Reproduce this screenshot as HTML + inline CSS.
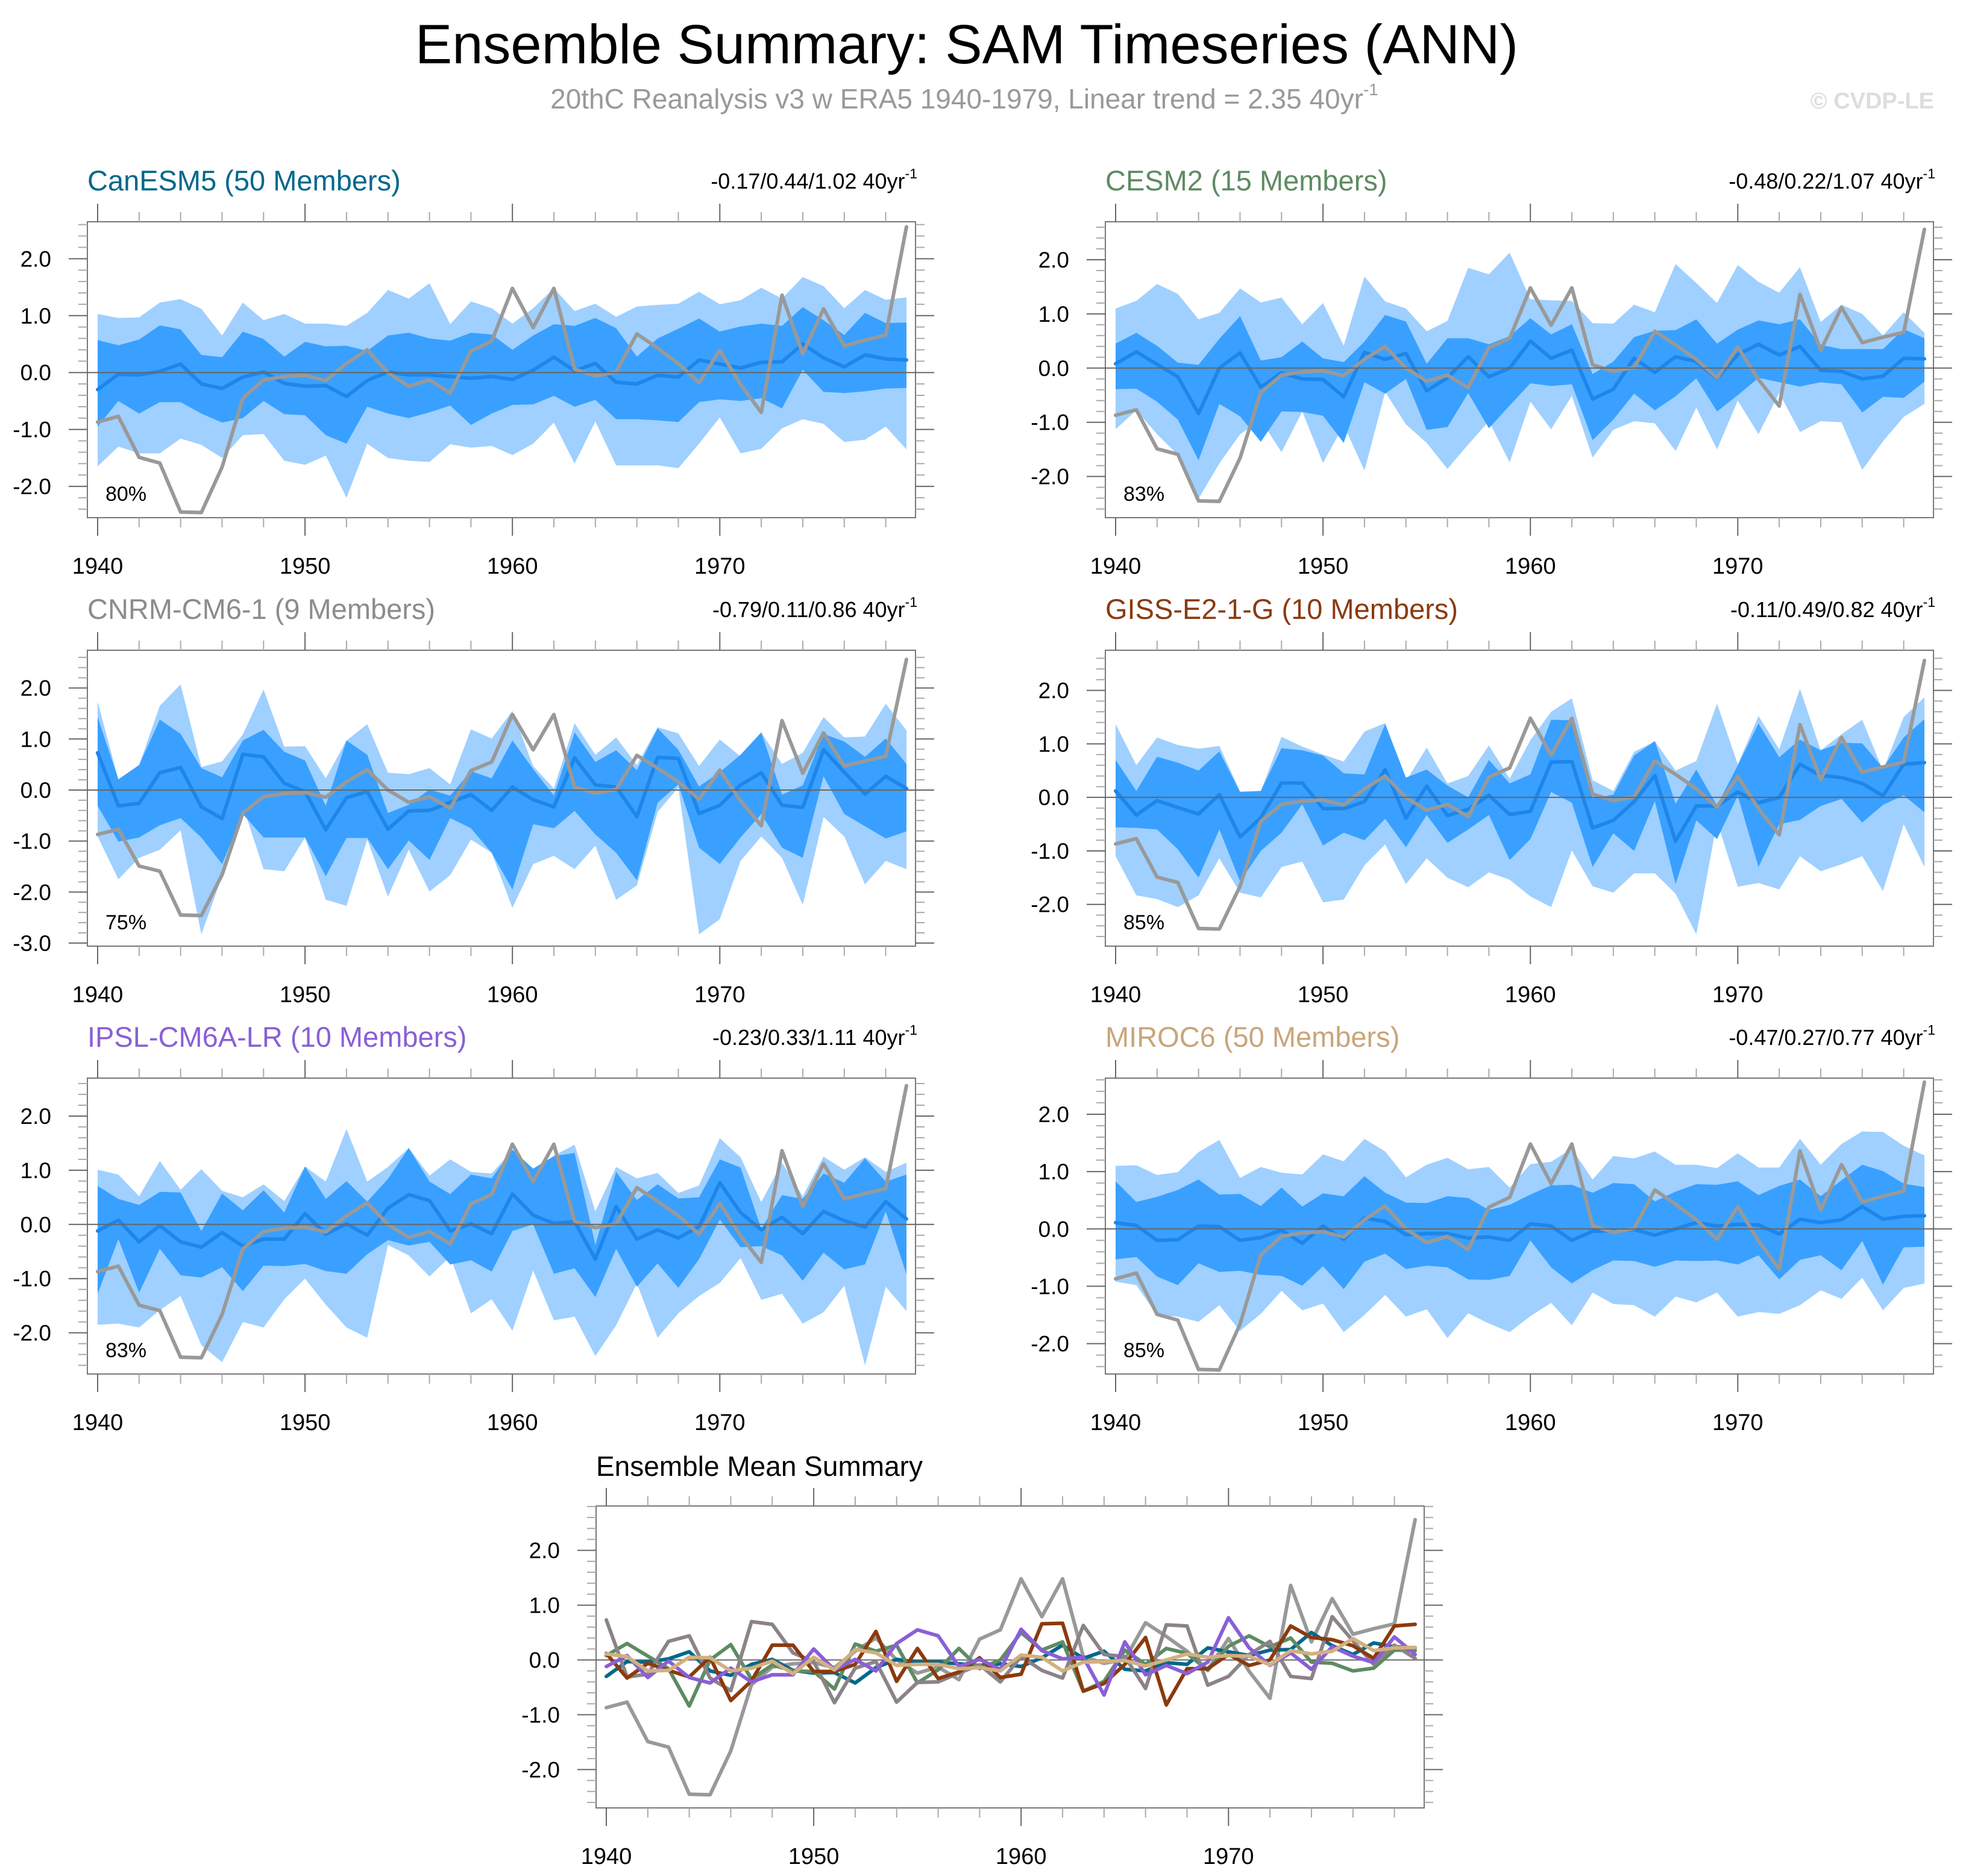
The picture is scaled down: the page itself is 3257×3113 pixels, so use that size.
<!DOCTYPE html>
<html><head><meta charset="utf-8">
<style>
html,body{margin:0;padding:0;background:#fff;}
svg{display:block;font-family:"Liberation Sans",sans-serif;}
</style></head>
<body>
<svg id="fig" width="3257" height="3113" viewBox="0 0 3257 3113" xmlns="http://www.w3.org/2000/svg">
<text x="1604" y="105" font-size="92" text-anchor="middle" fill="#000">Ensemble Summary: SAM Timeseries (ANN)</text>
<text x="1600" y="180" font-size="46" text-anchor="middle" fill="#999">20thC Reanalysis v3 w ERA5 1940-1979, Linear trend = 2.35 40yr<tspan font-size="28" dy="-22">-1</tspan></text>
<text x="3209" y="180" font-size="38" font-weight="bold" text-anchor="end" fill="#ddd">© CVDP-LE</text>
<g id="plots"></g>
</svg>
<script>
const years = [1940,1941,1942,1943,1944,1945,1946,1947,1948,1949,1950,1951,1952,1953,1954,1955,1956,1957,1958,1959,1960,1961,1962,1963,1964,1965,1966,1967,1968,1969,1970,1971,1972,1973,1974,1975,1976,1977,1978,1979];
const obs = [-0.87,-0.77,-1.49,-1.59,-2.45,-2.46,-1.66,-0.45,-0.13,-0.07,-0.05,-0.14,0.16,0.40,0,-0.24,-0.13,-0.36,0.38,0.55,1.48,0.79,1.48,0.06,-0.06,0.01,0.68,0.43,0.16,-0.18,0.39,-0.21,-0.70,1.36,0.33,1.12,0.47,0.57,0.66,2.56];

const canMean = [-0.3,-0.03,-0.04,0.02,0.15,-0.2,-0.28,-0.08,0.01,-0.19,-0.24,-0.23,-0.42,-0.14,0.01,-0.04,-0.04,-0.07,-0.1,-0.07,-0.12,0.04,0.27,0.03,0.16,-0.17,-0.2,-0.05,-0.08,0.22,0.15,0.08,0.18,0.19,0.5,0.26,0.1,0.31,0.24,0.22];
const canDarkHi = [0.57,0.48,0.58,0.83,0.76,0.31,0.27,0.72,0.59,0.28,0.54,0.46,0.47,0.38,0.65,0.7,0.6,0.56,0.7,0.67,0.4,0.65,0.85,0.82,0.96,0.78,0.28,0.6,0.77,0.95,0.72,0.81,0.86,0.82,1.15,0.92,0.66,1.05,0.87,0.88];
const canDarkLo = [-0.95,-0.5,-0.72,-0.52,-0.52,-0.72,-0.88,-0.8,-0.5,-0.73,-0.75,-1.1,-1.25,-0.6,-0.72,-0.8,-0.7,-0.58,-0.92,-0.72,-0.57,-0.56,-0.41,-0.6,-0.48,-0.82,-0.82,-0.84,-0.87,-0.52,-0.47,-0.5,-0.45,-0.63,0.05,-0.34,-0.36,-0.33,-0.28,-0.27];
const canLightHi = [1.03,0.96,0.97,1.23,1.29,1.12,0.65,1.23,0.92,1.03,0.86,0.86,0.82,1.05,1.45,1.3,1.57,0.85,1.25,1.13,0.86,1.13,1.48,1.08,1.21,0.98,1.16,1.19,1.21,1.42,1.2,1.27,1.49,1.3,1.68,1.52,1.13,1.45,1.28,1.32];
const canLightLo = [-1.65,-1.3,-1.42,-1.42,-1.16,-1.27,-1.5,-1.1,-1.08,-1.55,-1.62,-1.46,-2.2,-1.25,-1.5,-1.55,-1.57,-1.26,-1.32,-1.29,-1.45,-1.25,-0.88,-1.6,-0.86,-1.63,-1.63,-1.63,-1.68,-1.25,-0.79,-1.42,-1.34,-0.98,-0.82,-0.9,-1.22,-1.18,-0.95,-1.35];

const cesMean = [0.08,0.30,0.07,-0.16,-0.84,0,0.28,-0.35,-0.09,-0.2,-0.21,-0.53,0.29,0.16,0.27,-0.42,-0.18,0.21,-0.16,0,0.5,0.18,0.33,-0.57,-0.39,0.18,-0.08,0.21,0.12,-0.19,0.25,0.44,0.24,0.4,-0.04,-0.06,-0.2,-0.15,0.18,0.17];
const cesDarkHi = [0.45,0.65,0.41,0.1,0.06,0.54,0.96,0.14,0.2,0.49,0.18,0.11,0.49,0.98,0.86,0.08,0.55,0.55,0.44,0.59,0.92,0.62,0.81,-0.11,0.12,0.57,0.69,0.7,0.9,0.45,0.71,0.88,0.81,0.9,0.43,0.35,0.35,0.35,0.72,0.55];
const cesDarkLo = [-0.39,-0.38,-0.62,-0.95,-1.7,-0.66,-0.89,-1.36,-0.8,-0.81,-0.88,-1.38,-0.26,-0.47,-0.2,-1.14,-1.09,-0.46,-1.11,-0.69,-0.28,-0.33,-0.3,-1.33,-0.95,-0.47,-0.78,-0.52,-0.19,-0.8,-0.5,-0.18,-0.26,-0.34,-0.26,-0.3,-0.82,-0.53,-0.55,-0.25];
const cesLightHi = [1.1,1.24,1.55,1.37,0.9,1.02,1.47,1.21,1.3,0.81,1.2,0.41,1.69,1.23,1.1,0.68,0.87,1.85,1.73,2.13,1.27,1.25,1.24,0.83,0.82,1.17,1.03,1.92,1.57,1.2,1.9,1.59,1.39,1.86,0.85,1.17,1.0,0.6,1.03,0.65];
const cesLightLo = [-1.13,-0.78,-1.22,-1.6,-2.41,-1.76,-1.22,-0.96,-1.55,-0.8,-1.75,-1.05,-1.89,-0.44,-1.04,-1.38,-1.86,-1.41,-0.98,-1.74,-0.62,-1.13,-0.51,-1.65,-1.14,-0.98,-1.02,-1.53,-0.73,-1.5,-0.6,-1.22,-0.46,-1.18,-0.98,-1.0,-1.88,-1.35,-0.9,-0.66];

const cnrMean = [0.73,-0.31,-0.26,0.34,0.44,-0.33,-0.56,0.7,0.65,0.13,-0.03,-0.78,-0.15,-0.03,-0.77,-0.41,-0.4,-0.24,-0.09,-0.4,0.06,-0.19,-0.33,0.63,0.1,0.06,-0.52,0.64,0.62,-0.46,-0.3,0.1,0.34,-0.3,-0.34,0.79,0.35,-0.08,0.27,0.03];
const cnrDarkHi = [1.43,0.21,0.49,1.38,1.1,0.43,0.25,0.97,1.18,0.75,0.58,-0.31,0.97,0.69,-0.45,-0.29,0.01,-0.11,0.37,0.23,0.97,0.41,-0.11,1.13,0.55,0.78,0.39,1.21,0.79,0.07,0.35,0.69,1.13,-0.09,0.09,1.1,0.95,0.65,1.01,0.51];
const cnrDarkLo = [-0.31,-1.01,-0.93,-0.69,-0.55,-0.93,-1.45,-0.47,-0.93,-0.93,-0.93,-1.69,-0.94,-0.94,-1.55,-0.99,-1.37,-0.55,-0.75,-1.23,-1.95,-0.67,-0.75,-0.41,-0.87,-1.23,-1.77,-0.25,0.11,-1.13,-1.45,-0.93,-0.47,-1.13,-1.33,0.27,-0.47,-0.71,-0.95,-0.81];
const cnrLightHi = [1.73,0.21,0.49,1.65,2.07,0.45,0.56,1.09,1.97,0.85,0.86,0.23,0.97,1.29,0.34,0.31,0.43,0.11,1.19,1.01,1.55,0.47,0.03,1.31,0.69,1.03,0.49,1.23,1.11,0.47,0.99,0.66,1.13,0.51,0.73,1.43,1.03,1.05,1.69,1.17];
const cnrLightLo = [-0.91,-1.75,-1.33,-1.17,-0.79,-2.83,-1.69,-0.31,-1.55,-1.59,-0.93,-2.15,-2.27,-0.97,-2.09,-1.17,-1.99,-1.67,-0.97,-1.23,-2.31,-1.45,-1.29,-1.55,-1.09,-2.15,-1.87,-0.43,0.05,-2.83,-2.53,-1.39,-0.91,-1.33,-2.25,-0.53,-0.91,-1.85,-1.39,-1.55];

const gisMean = [0.12,-0.33,-0.06,-0.19,-0.31,0.05,-0.74,-0.38,0.27,0.27,-0.21,-0.21,-0.08,0.52,-0.39,0.21,-0.34,-0.22,0.04,-0.32,-0.26,0.66,0.67,-0.57,-0.43,-0.08,0.41,-0.82,-0.16,-0.16,0.1,-0.1,0.0,0.62,0.41,0.37,0.26,0.03,0.62,0.65];
const gisDarkHi = [0.7,0.12,0.76,0.65,0.5,0.86,0.1,0.12,0.92,0.88,0.78,0.45,0.43,1.37,0.37,0.52,0.22,0.0,0.7,0.26,0.43,1.45,1.44,-0.02,0.05,0.78,1.05,-0.12,0.52,-0.15,0.6,1.38,0.75,1.08,0.88,1.02,1.01,0.55,1.12,1.46];
const gisDarkLo = [-0.56,-0.57,-0.6,-0.97,-1.5,-0.6,-1.57,-1.0,-0.66,-0.13,-0.9,-0.66,-0.8,-0.4,-0.93,-0.33,-0.85,-0.6,-0.33,-1.17,-0.78,0.1,-0.1,-1.3,-0.67,-1.0,-0.07,-1.62,-0.43,-0.78,0.03,-1.3,-0.5,-0.42,-0.16,-0.03,-0.47,-0.14,0.04,-0.28];
const gisLightHi = [1.37,0.6,1.12,0.98,0.91,0.96,0.11,0.12,1.13,0.95,0.8,0.67,1.23,1.39,0.3,0.93,0.26,0.4,0.97,0.35,1.07,1.6,1.85,0.32,0.12,0.85,1.05,0.5,0.68,1.75,0.62,1.52,0.9,2.03,0.88,1.18,1.45,0.5,1.5,1.87];
const gisLightLo = [-1.1,-1.83,-1.9,-2.05,-1.83,-1.14,-1.78,-1.87,-1.3,-1.2,-1.96,-1.91,-1.27,-0.88,-1.62,-1.14,-1.5,-1.68,-1.4,-1.54,-1.85,-2.05,-0.99,-1.66,-1.78,-1.42,-1.42,-1.8,-2.56,-0.45,-1.67,-1.6,-1.72,-1.1,-1.38,-1.25,-1.1,-1.75,-0.5,-1.3];

const ipsMean = [-0.12,0.08,-0.32,-0.02,-0.32,-0.42,-0.15,-0.4,-0.27,-0.27,0.2,-0.18,0.01,-0.2,0.3,0.55,0.44,-0.12,0.01,-0.17,0.56,0.17,0.02,0.05,-0.64,0.33,-0.27,-0.1,-0.25,-0.04,0.77,0.22,-0.1,0.13,-0.17,0.24,0.07,-0.05,0.42,0.1];
const ipsDarkHi = [0.71,0.47,0.36,0.6,0.59,-0.12,0.57,0.26,0.63,0.22,1.07,0.47,0.8,0.42,0.84,1.41,0.79,0.56,0.92,0.85,1.38,1.03,1.26,1.32,-0.38,0.97,0.45,0.74,0.48,0.5,1.2,1.05,-0.08,0.54,0.47,0.94,0.77,1.22,0.79,0.92];
const ipsDarkLo = [-1.28,-0.27,-1.26,-0.45,-0.94,-0.98,-0.79,-1.23,-0.76,-0.77,-0.73,-0.86,-0.91,-0.55,-0.29,-0.39,-0.32,-0.74,-0.66,-0.87,-0.12,0,-0.91,-0.81,-1.34,-0.45,-1.15,-0.72,-1.17,-0.64,0.09,-0.42,-0.4,-0.57,-1.04,-0.52,-0.83,-0.74,0.24,-0.92];
const ipsLightHi = [1.01,0.92,0.52,1.17,0.64,1.02,0.62,0.5,0.74,0.43,1.07,0.79,1.76,0.79,1.06,1.41,0.9,1.2,0.97,0.94,1.37,0.95,1.27,1.47,0.24,1.06,0.85,0.95,0.58,0.72,1.59,1.24,0.41,1.14,0.52,1.25,1.01,1.24,0.97,1.14];
const ipsLightLo = [-1.85,-1.83,-1.9,-1.58,-1.32,-2.23,-2.54,-1.8,-1.9,-1.38,-1.0,-1.48,-1.9,-2.09,-0.38,-0.57,-0.96,-0.59,-1.64,-1.38,-1.96,-0.85,-1.77,-1.7,-2.43,-1.86,-1.09,-2.09,-1.64,-1.32,-1.08,-0.62,-1.39,-1.28,-1.83,-1.62,-1.13,-2.6,-1.15,-1.6];

const mirMean = [0.11,0.06,-0.2,-0.19,0.05,0.04,-0.2,-0.15,-0.02,-0.25,0.05,-0.18,0.19,0.13,-0.1,-0.08,-0.08,-0.16,-0.14,-0.2,0.09,0.05,-0.2,-0.04,-0.03,-0.01,-0.11,0.0,0.11,0.05,0.08,0.07,-0.09,0.17,0.11,0.16,0.39,0.17,0.22,0.23];
const mirDarkHi = [0.83,0.47,0.56,0.68,0.86,0.6,0.61,0.4,0.72,0.39,0.62,0.57,0.92,0.63,0.46,0.45,0.57,0.54,0.33,0.42,0.6,0.76,0.77,0.63,0.8,0.78,0.48,0.65,0.78,0.77,0.83,0.59,0.75,0.86,0.57,0.85,1.12,1.01,0.79,0.73];
const mirDarkLo = [-0.53,-0.49,-0.83,-0.98,-0.6,-0.75,-0.73,-0.8,-0.82,-0.99,-0.65,-1.05,-0.57,-0.43,-0.7,-0.64,-0.67,-0.88,-0.89,-0.82,-0.2,-0.67,-0.95,-0.72,-0.55,-0.56,-0.66,-0.55,-0.56,-0.55,-0.62,-0.46,-0.88,-0.54,-0.46,-0.72,-0.21,-0.97,-0.32,-0.31];
const mirLightHi = [1.1,1.11,0.94,0.99,1.34,1.55,0.89,1.08,0.98,0.95,1.3,1.18,1.57,1.35,0.9,1.12,1.24,1.04,1.08,0.72,1.13,1.17,1.4,0.86,1.27,1.23,1.35,1.12,1.12,1.06,1.32,1.07,1.07,1.57,1.12,1.48,1.7,1.69,1.45,1.28];
const mirLightLo = [-0.92,-0.98,-1.5,-1.53,-1.62,-1.33,-1.78,-1.48,-1.08,-1.42,-1.3,-1.8,-1.5,-1.15,-1.53,-1.4,-1.9,-1.47,-1.65,-1.8,-1.52,-1.29,-1.68,-1.11,-1.31,-1.33,-1.53,-1.18,-1.28,-1.11,-1.53,-1.45,-1.48,-1.33,-1.07,-1.22,-0.85,-1.42,-1.03,-0.95];

const NS = "http://www.w3.org/2000/svg";
const root = document.getElementById('plots');
function mk(tag, attrs, parent){ const e=document.createElementNS(NS,tag); for(const k in attrs) e.setAttribute(k,attrs[k]); (parent||root).appendChild(e); return e; }

const W = 1374, H = 491;
const panels = [
 {key:'canesm5', title:'CanESM5 (50 Members)', color:'#00688b', stat:'-0.17/0.44/1.02 40yr', pct:'80%', x0:145, y0:368, ymin:-2.55, ymax:2.65, mean:canMean, dh:canDarkHi, dl:canDarkLo, lh:canLightHi, ll:canLightLo},
 {key:'cesm2', title:'CESM2 (15 Members)', color:'#5e8b63', stat:'-0.48/0.22/1.07 40yr', pct:'83%', x0:1834, y0:368, ymin:-2.76, ymax:2.70, mean:cesMean, dh:cesDarkHi, dl:cesDarkLo, lh:cesLightHi, ll:cesLightLo},
 {key:'cnrm', title:'CNRM-CM6-1 (9 Members)', color:'#8c8c8c', stat:'-0.79/0.11/0.86 40yr', pct:'75%', x0:145, y0:1079, ymin:-3.06, ymax:2.74, mean:cnrMean, dh:cnrDarkHi, dl:cnrDarkLo, lh:cnrLightHi, ll:cnrLightLo},
 {key:'giss', title:'GISS-E2-1-G (10 Members)', color:'#8b3a0e', stat:'-0.11/0.49/0.82 40yr', pct:'85%', x0:1834, y0:1079, ymin:-2.78, ymax:2.75, mean:gisMean, dh:gisDarkHi, dl:gisDarkLo, lh:gisLightHi, ll:gisLightLo},
 {key:'ipsl', title:'IPSL-CM6A-LR (10 Members)', color:'#8a5fd6', stat:'-0.23/0.33/1.11 40yr', pct:'83%', x0:145, y0:1789, ymin:-2.76, ymax:2.70, mean:ipsMean, dh:ipsDarkHi, dl:ipsDarkLo, lh:ipsLightHi, ll:ipsLightLo},
 {key:'miroc6', title:'MIROC6 (50 Members)', color:'#c9a57a', stat:'-0.47/0.27/0.77 40yr', pct:'85%', x0:1834, y0:1789, ymin:-2.53, ymax:2.63, mean:mirMean, dh:mirDarkHi, dl:mirDarkLo, lh:mirLightHi, ll:mirLightLo}
];

function axes(g, x0, y0, w, h, ymin, ymax, xs, ys){
  const box = mk('rect',{x:x0,y:y0,width:w,height:h,fill:'none',stroke:'#777','stroke-width':2},g);
  
  
  for(let yr=1940; yr<=1979; yr+=2){
    const major = (yr%10===0);
    const L = major?30:16;
    const X = xs(yr);
    mk('line',{x1:X,x2:X,y1:y0,y2:y0-L,stroke:major?'#666':'#aaa','stroke-width':2},g);
    mk('line',{x1:X,x2:X,y1:y0+h,y2:y0+h+L,stroke:major?'#666':'#aaa','stroke-width':2},g);
    if(major){
      const t = mk('text',{x:X,y:y0+h+93,'font-size':38,'text-anchor':'middle',fill:'#000'},g);
      
      
      t.textContent = String(yr);
    }
  }
  const start = Math.ceil(ymin*5-1e-6), end = Math.floor(ymax*5+1e-6);
  for(let k=start;k<=end;k++){
    const v = k/5, Y = ys(v);
    const major = (k%5===0);
    const L = major?31:15;
    mk('line',{x1:x0,x2:x0-L,y1:Y,y2:Y,stroke:major?'#666':'#aaa','stroke-width':2},g);
    mk('line',{x1:x0+w,x2:x0+w+L,y1:Y,y2:Y,stroke:major?'#666':'#aaa','stroke-width':2},g);
    if(major){
      const t = mk('text',{x:x0-60,y:Y+13,'font-size':37,'text-anchor':'end',fill:'#000'},g);
      
      
      t.textContent = (v).toFixed(1).replace('-0.0','0.0');
    }
  }
  const z = mk('line',{x1:x0,x2:x0+w,y1:ys(0),y2:ys(0),stroke:'#666','stroke-width':2},g);
  
  
}

function band(g, hi, lo, xs, ys, fill, name){
  let d='';
  years.forEach((yr,i)=>{ d += (i?'L':'M')+xs(yr).toFixed(1)+','+ys(hi[i]).toFixed(1); });
  for(let i=years.length-1;i>=0;i--){ d += 'L'+xs(years[i]).toFixed(1)+','+ys(lo[i]).toFixed(1); }
  const p = mk('path',{d:d+'Z',fill:fill,stroke:'none'},g);
  
  
}
function line(g, vals, xs, ys, color, width, name){
  const pts = years.map((yr,i)=>xs(yr).toFixed(1)+','+ys(vals[i]).toFixed(1)).join(' ');
  const p = mk('polyline',{points:pts,fill:'none',stroke:color,'stroke-width':width,'stroke-linejoin':'round','stroke-linecap':'round'},g);
  
  
}

panels.forEach(P=>{
  const g = mk('g',{});
  
  
  const xs = yr => P.x0 + 17 + (yr-1940)*(W-32)/39;
  const ys = v => P.y0 + (P.ymax - v)/(P.ymax-P.ymin)*H;
  const clipId = 'clip-'+P.key;
  const cp = mk('clipPath',{id:clipId},g); mk('rect',{x:P.x0,y:P.y0,width:W,height:H},cp);
  const inner = mk('g',{'clip-path':'url(#'+clipId+')'},g);
  band(inner, P.lh, P.ll, xs, ys, '#9fd0ff', 'outer-range-band');
  band(inner, P.dh, P.dl, xs, ys, '#39a0ff', 'inner-range-band');
  axes(g, P.x0, P.y0, W, H, P.ymin, P.ymax, xs, ys);
  line(inner, P.mean, xs, ys, '#1e86ea', 6, 'ensemble-mean-line');
  line(inner, obs, xs, ys, '#999', 6, 'observed-line');
  const t = mk('text',{x:P.x0,y:P.y0-52,'font-size':47,fill:P.color},g);
  
  
  t.textContent = P.title;
  const s = mk('text',{x:P.x0+W+3,y:P.y0-55,'font-size':36,'text-anchor':'end',fill:'#000'},g);
  
  
  s.textContent = P.stat;
  const sup = mk('tspan',{'font-size':23,dy:-17},s); sup.textContent='-1';
  const pc = mk('text',{x:P.x0+30,y:P.y0+H-28,'font-size':34,fill:'#000'},g);
  
  
  pc.textContent = P.pct;
});

(function(){
  const x0=989, y0=2499, h=501, ymin=-2.70, ymax=2.81;
  const g = mk('g',{});
  
  
  const xs = yr => x0 + 17 + (yr-1940)*(W-32)/39;
  const ys = v => y0 + (ymax - v)/(ymax-ymin)*h;
  axes(g, x0, y0, W, h, ymin, ymax, xs, ys);
  const cp = mk('clipPath',{id:'clip-sum'},g); mk('rect',{x:x0,y:y0,width:W,height:h},cp);
  const inner = mk('g',{'clip-path':'url(#clip-sum)'},g);
  line(inner, obs, xs, ys, '#999', 6, 'observed-line');
  const cols = ['#00688b','#5e8b63','#8b8388','#8b3a0e','#8a5fd6','#d2b07f'];
  panels.forEach((P,i)=>{ line(inner, P.mean, xs, ys, cols[i], 6, 'mean-line-'+P.key); });
  const t = mk('text',{x:x0,y:y0-50,'font-size':46,fill:'#000'},g);
  
  
  t.textContent = 'Ensemble Mean Summary';
})();
</script>
</body></html>
